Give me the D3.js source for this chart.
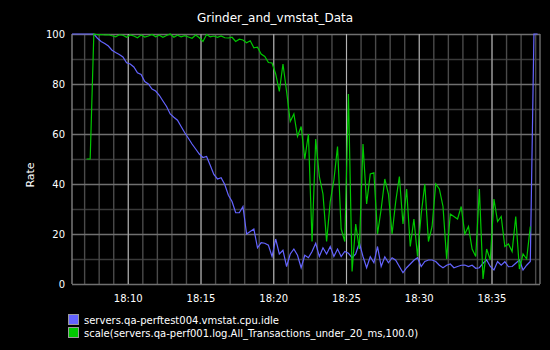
<!DOCTYPE html>
<html>
<head>
<meta charset="utf-8">
<script src="https://cdn.jsdelivr.net/npm/d3@7"></script>
<style>
  html, body { margin: 0; padding: 0; background: #000; }
  svg { display: block; font-family: "DejaVu Sans", sans-serif; }
</style>
</head>
<body>
<svg id="chart" width="550" height="350"></svg>
<script>
// ---- data -------------------------------------------------------------
const chartTitle = "Grinder_and_vmstat_Data";
const yAxisLabel = "Rate";
const seriesNames = [
  "servers.qa-perftest004.vmstat.cpu.idle",
  "scale(servers.qa-perf001.log.All_Transactions_under_20_ms,100.0)"
];
const seriesColors = ["#6464ff", "#00c800"];
const startTime = Date.UTC(2013, 0, 1, 18, 6, 10);
const endTime = Date.UTC(2013, 0, 1, 18, 38, 20);
const stepSeconds = 15;
const yMajorTicks = [0, 20, 40, 60, 80, 100];
const yMinorTicks = [10, 30, 50, 70, 90];

// cpu idle, one sample per step
const cpuIdle = [
  100, 100, 100, 100, 100, 100, 100, 98.3, 97, 96.2,
  95.2, 93.5, 92.6, 91.8, 90.8, 88.5, 88, 86.8, 84.5, 83.8,
  81, 80, 78, 77.2, 75.5, 73.2, 71, 68, 66.7, 65.5,
  63, 60.5, 58.3, 56, 54, 52, 50.6, 51, 47.5, 43.8,
  42, 42.5, 39.8, 35.5, 33, 28.5, 28.5, 31, 20, 21,
  22, 14.5, 16.5, 16.3, 15.5, 11, 18, 12, 13.5, 7,
  12, 14, 11.5, 6.5, 11.5, 10.5, 13, 16.3, 11, 14.5,
  12, 15, 11, 14, 11, 13, 12.3, 10.5, 12, 16.5,
  11, 6.5, 10.9, 8.5, 15, 7, 10.9, 8.5, 10.5, 9.5,
  7, 4.5, 6.5, 8, 9.5, 10.5, 7, 9, 9.6, 9.6,
  9, 7.5, 6.5, 7.5, 8, 6.5, 7, 7.5, 7.6, 7,
  7.5, 6.3, 6.5, 8.3, 9.6, 7, 5.6, 9, 7.5, 8.9,
  6.9, 7, 8.3, 9.6, 5.6, 7.5, 9, 100, 100
];

// transactions under 20 ms (scaled to 100), null where no sample exists
const txUnder20ms = [
  null, null, null, null, 50, 50, 100, 99.7, 99.8, 99.6,
  99.7, 99.3, 98.9, 99.7, 99.5, 98.7, 99.6, 99.2, 98.5, 99.6,
  98.8, 99.2, 99.8, 98.9, 99.5, 98.7, 99.4, 100, 98.7, 99.5,
  98.9, 99.3, 98.8, 98.3, 99.6, 98.5, 97, 99.8, 98.9, 99.2,
  98.7, 99.2, 98.5, 98.4, 98.7, 97, 97.9, 97.6, 96.5, 97.3,
  94.5, 94.7, 92, 91, 88.6, 88.4, 84, 77, 88, 77,
  65, 68, 59, 63, 50, 60, 17, 58, 43, 36,
  17, 33, 41.5, 55, 22, 17, 76, 5, 24, 14,
  56, 32, 44, 44.5, 20, 30, 42, 36, 20, 33,
  43, 24, 38, 15, 26, 11, 28, 40, 17, 23,
  40, 38, 31, 10, 28, 27, 26, 31, 20, 23,
  14, 11, 38, 2, 14, 9.6, 34, 25, 27, 15,
  16, 13, 27, 6, 12, 10, 23, null, null
];

// ---- layout -----------------------------------------------------------
const plotLeft = 72, plotRight = 540, plotTop = 34, plotBottom = 284;
const plotW = plotRight - plotLeft, plotH = plotBottom - plotTop;

const svg = d3.select("#chart");
svg.append("rect").attr("width", 550).attr("height", 350).attr("fill", "#000");

const x = d3.scaleUtc().domain([startTime, endTime]).range([plotLeft, plotRight]);
const y = d3.scaleLinear().domain([0, 100]).range([plotBottom, plotTop]);

const timeAt = i => startTime + i * stepSeconds * 1000;

// ---- grid -------------------------------------------------------------
// minor horizontal lines
svg.append("g")
  .attr("transform", `translate(${plotLeft},0)`)
  .call(d3.axisLeft(y).tickValues(yMinorTicks).tickSize(-plotW).tickFormat(""))
  .call(g => g.select(".domain").remove())
  .call(g => g.selectAll("line").attr("stroke", "#3a3a3a").attr("stroke-width", 1.6));

// minor vertical lines, one per minute
svg.append("g")
  .attr("transform", `translate(0,${plotBottom})`)
  .call(d3.axisBottom(x).ticks(d3.utcMinute.every(1)).tickSize(-plotH).tickFormat(""))
  .call(g => g.select(".domain").remove())
  .call(g => g.selectAll("line").attr("stroke", "#4a4a4a").attr("stroke-width", 1.4));

// major horizontal lines + y labels
svg.append("g")
  .attr("transform", `translate(${plotLeft},0)`)
  .call(d3.axisLeft(y).tickValues(yMajorTicks).tickSize(-plotW).tickPadding(7))
  .call(g => g.select(".domain").remove())
  .call(g => g.selectAll("line").attr("stroke", "#707070").attr("stroke-width", 1.6))
  .call(g => g.selectAll("text").attr("fill", "#fff").attr("font-size", 10)
    .attr("font-family", "DejaVu Sans"));

// major vertical lines + time labels
svg.append("g")
  .attr("transform", `translate(0,${plotBottom})`)
  .call(d3.axisBottom(x).ticks(d3.utcMinute.every(5)).tickSize(-plotH).tickPadding(11)
    .tickFormat(d3.utcFormat("%H:%M")))
  .call(g => g.select(".domain").remove())
  .call(g => g.selectAll("line").attr("stroke", "#b4b4b4").attr("stroke-width", 1))
  .call(g => g.selectAll("text").attr("fill", "#fff").attr("font-size", 10)
    .attr("font-family", "DejaVu Sans"));

// plot frame: left axis and right edge
svg.append("line").attr("x1", plotLeft).attr("x2", plotLeft)
  .attr("y1", plotTop).attr("y2", plotBottom)
  .attr("stroke", "#808080").attr("stroke-width", 1.4);
svg.append("line").attr("x1", plotRight).attr("x2", plotRight)
  .attr("y1", plotTop).attr("y2", plotBottom)
  .attr("stroke", "#707070").attr("stroke-width", 1.4);

// ---- series -----------------------------------------------------------
const line = d3.line()
  .defined(d => d != null)
  .x((d, i) => x(timeAt(i)))
  .y(d => y(d));

[cpuIdle, txUnder20ms].forEach((values, k) => {
  svg.append("path")
    .datum(values)
    .attr("fill", "none")
    .attr("stroke", seriesColors[k])
    .attr("stroke-width", 1.2)
    .attr("stroke-linejoin", "miter")
    .attr("d", line);
});

// ---- text -------------------------------------------------------------
svg.append("text")
  .attr("x", 275).attr("y", 22)
  .attr("text-anchor", "middle")
  .attr("fill", "#fff").attr("font-size", 12)
  .text(chartTitle);

svg.append("text")
  .attr("transform", "translate(34,175) rotate(-90)")
  .attr("text-anchor", "middle")
  .attr("fill", "#fff").attr("font-size", 11)
  .text(yAxisLabel);

// ---- legend -----------------------------------------------------------
const legend = svg.append("g").attr("transform", "translate(68,314)");
seriesNames.forEach((name, k) => {
  const row = legend.append("g").attr("transform", `translate(0,${k * 13})`);
  row.append("rect")
    .attr("x", 0.5).attr("y", 0.5).attr("width", 10).attr("height", 10)
    .attr("fill", seriesColors[k]).attr("stroke", "#9a9a9a").attr("stroke-width", 1);
  row.append("text")
    .attr("x", 16).attr("y", 10)
    .attr("fill", "#fff").attr("font-size", 10)
    .text(name);
});
</script>
</body>
</html>
